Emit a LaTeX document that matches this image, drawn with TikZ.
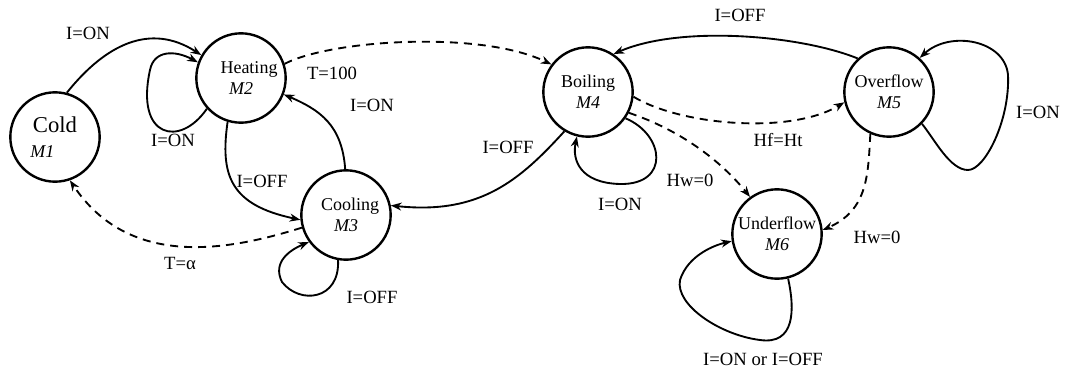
\documentclass[tikz,border=0pt]{standalone}
\usepackage{fontspec}
\setmainfont{Liberation Serif}
\usetikzlibrary{arrows.meta}
\tikzset{
  state/.style={circle,draw,line width=1.8pt,minimum size=67pt,inner sep=0pt,align=center,font=\fontsize{13.5}{16}\selectfont},
  lbl/.style={font=\fontsize{14}{16}\selectfont,inner sep=1pt},
  trans/.style={line width=1.4pt,-{Stealth[length=8pt,width=6pt]}},
  dtrans/.style={line width=1.4pt,dash pattern=on 6pt off 4.5pt,-{Stealth[length=8pt,width=6pt]}},
  otrans/.style={line width=1.4pt,dash pattern=on 6pt off 4.5pt,-{Stealth[open,length=8pt,width=6pt]}}
}
\begin{document}
\begin{tikzpicture}[x=0.75pt,y=-0.75pt]
\useasboundingbox (0,0) rectangle (1067,371);
% states
\node[state,align=left,font=\fontsize{17}{21}\selectfont] (m1) at (55,137) {Cold\\[-2pt]\hspace*{-2pt}{\fontsize{13.5}{16}\selectfont\itshape M1}};
\node[state] (m2) at (241,78) {\hspace*{12pt}Heating\\\textit{M2}};
\node[state] (m3) at (346,215) {\hspace*{6pt}Cooling\\\textit{M3}};
\node[state] (m4) at (588,92) {Boiling\\\textit{M4}};
\node[state] (m5) at (889,92) {Overflow\\\textit{M5}};
\node[state] (m6) at (777,234) {Underflow\\\textit{M6}};
% transitions
\draw[trans] (m1.75) .. controls (105,45) and (150,22) .. (m2.150);
\node[lbl] (l1) at (88,33) {I=ON};
\draw[trans] (m2.222) .. controls (180,148) and (135,138) .. (150,70) .. controls (154,50) and (175,50) .. (m2.160);
\node[lbl] (l2) at (173,140) {I=ON};
\draw[trans] (m2.253) .. controls (220,175) and (230,205) .. (m3.186);
\node[lbl] (l3) at (262,181) {I=OFF};
\draw[trans] (m3.91) .. controls (342,125) and (320,110) .. (m2.-21);
\node[lbl] (l4) at (372,105) {I=ON};
\draw[otrans] (m3.196) .. controls (230,250) and (130,270) .. (m1.289);
\node[lbl] (l5) at (180,263) {T=α};
\draw[trans] (m3.260) .. controls (340,300) and (300,305) .. (282,282) .. controls (272,262) and (290,250) .. (m3.216);
\node[lbl] (l6) at (372,297) {I=OFF};
\draw[otrans] (m2.18) .. controls (330,40) and (480,30) .. (m4.143);
\node[lbl] (l7) at (332,73) {T=100};
\draw[trans] (m4.239) .. controls (520,180) and (480,215) .. (m3.12);
\node[lbl] (l8) at (508,147) {I=OFF};
\draw[trans] (m4.-35) .. controls (665,135) and (670,185) .. (620,184) .. controls (580,183) and (572,160) .. (m4.256);
\node[lbl] (l9) at (620,204) {I=ON};
\draw[dtrans] (m4.-6) .. controls (680,125) and (790,135) .. (m5.193);
\node[lbl] (l10) at (778,140) {Hf=Ht};
\draw[dtrans] (m4.-27) .. controls (680,130) and (720,160) .. (m6.126);
\node[lbl] (l11) at (690,180) {Hw=0};
\draw[trans] (m5.133) .. controls (800,35) and (680,25) .. (m4.56);
\node[lbl] (l12) at (740,15) {I=OFF};
\draw[trans] (m5.-44) .. controls (935,140) and (950,170) .. (968,170) .. controls (985,170) and (1010,120) .. (1008,75) .. controls (1005,40) and (950,30) .. (m5.48);
\node[lbl] (l13) at (1038,112) {I=ON};
\draw[otrans] (m5.246) .. controls (868,175) and (868,210) .. (m6.5);
\node[lbl] (l14) at (877,237) {Hw=0};
\draw[trans] (m6.-76) .. controls (795,310) and (795,345) .. (760,340) .. controls (720,335) and (675,305) .. (680,280) .. controls (688,255) and (715,245) .. (m6.189);
\node[lbl] (l15) at (763,359) {I=ON or I=OFF};
\end{tikzpicture}
\end{document}
